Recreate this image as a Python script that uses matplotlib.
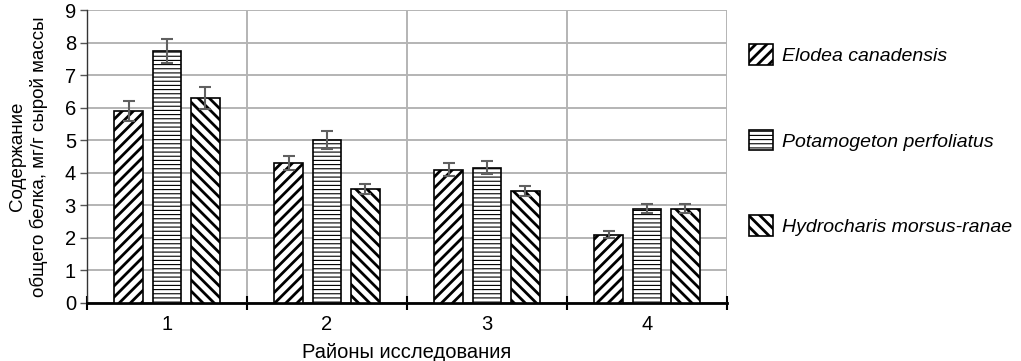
import matplotlib

matplotlib.use("Agg")
import matplotlib.pyplot as plt
import numpy as np

plt.rcParams["font.family"] = ["Liberation Sans", "DejaVu Sans"]

regions = ["1", "2", "3", "4"]
species = ["Elodea canadensis", "Potamogeton perfoliatus", "Hydrocharis morsus-ranae"]
elodea = [5.9, 4.3, 4.1, 2.1]
potamogeton = [7.75, 5.0, 4.15, 2.9]
hydrocharis = [6.3, 3.5, 3.45, 2.9]
elodea_err = [0.3, 0.22, 0.2, 0.1]
potamogeton_err = [0.37, 0.27, 0.2, 0.13]
hydrocharis_err = [0.33, 0.15, 0.15, 0.13]

series = [elodea, potamogeton, hydrocharis]
errors = [elodea_err, potamogeton_err, hydrocharis_err]
hatches = ["///", "----", "\\\\\\"]
hatch_lw = [2.0, 0.8, 2.0]

fig = plt.figure(figsize=(10.21, 3.61), dpi=100)
ax = fig.add_axes([0.0852, 0.1607, 0.6268, 0.8113])

x = np.arange(len(regions))
width = 0.18
offsets = [-0.24, 0, 0.24]
handles = []
for vals, err, h, hl, off, name in zip(series, errors, hatches, hatch_lw, offsets, species):
    with plt.rc_context({"hatch.linewidth": hl, "hatch.color": "black"}):
        b = ax.bar(x + off, vals, width, color="white", edgecolor="black",
                   linewidth=1.2, hatch=h, label=name, zorder=3)
    ax.errorbar(x + off, vals, yerr=err, fmt="none", ecolor="#606060",
                elinewidth=1.5, capsize=4, capthick=1.5, zorder=4)
    handles.append(b)

ax.set_xlim(-0.5, len(regions) - 0.5)
ax.set_ylim(0, 9)
ax.set_yticks(range(0, 10))
ax.set_xticks(np.arange(-0.5, len(regions), 1.0))
ax.set_xticklabels([])
ax.set_xticks(x, minor=True)
ax.set_xticklabels(regions, minor=True, fontsize=14.5)
ax.tick_params(axis="x", which="minor", length=0, pad=9)
ax.tick_params(axis="x", which="major", direction="inout", length=10, width=1.5)
ax.tick_params(axis="y", length=5, width=1, color="#555555", labelsize=14.5, pad=3)

ax.grid(True, axis="both", which="major", color="#b4b4b4", lw=1.4, zorder=0)
for s in ["top", "right"]:
    ax.spines[s].set_visible(False)
ax.spines["bottom"].set_linewidth(2)
ax.spines["left"].set_linewidth(1)
ax.spines["left"].set_color("#333333")

ax.set_xlabel("Районы исследования", fontsize=14.5, labelpad=6)
ax.set_ylabel("Содержание\nобщего белка, мг/г сырой массы", fontsize=13.5, labelpad=12,
              linespacing=1.25)

leg = fig.legend(handles, species, loc="center left", bbox_to_anchor=(0.716, 0.612),
                 frameon=False, prop={"style": "italic", "size": 14.0},
                 handlelength=1.27, handleheight=1.27, labelspacing=3.3,
                 handletextpad=0.45)
for hd, hl in zip(leg.legend_handles, hatch_lw):
    if hasattr(hd, "set_hatch_linewidth"):
        hd.set_hatch_linewidth(hl)

fig.savefig("out.png", dpi=100, facecolor="white")
